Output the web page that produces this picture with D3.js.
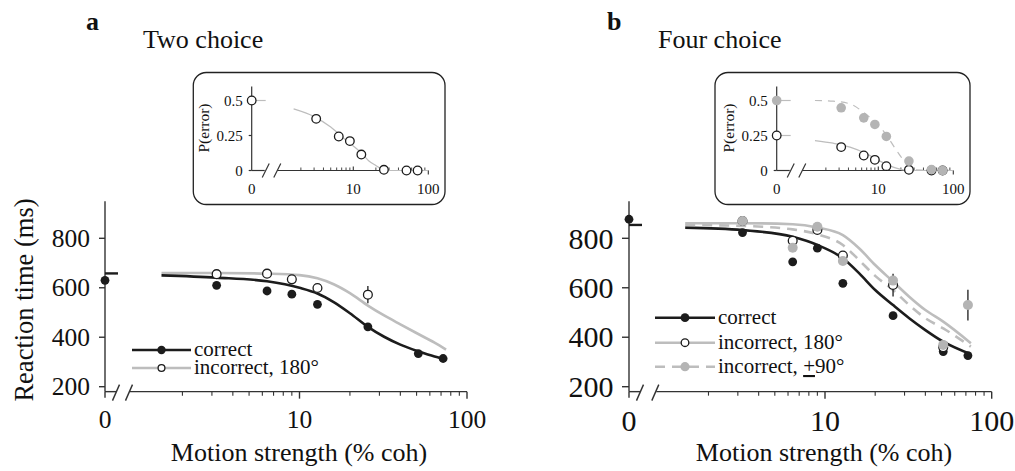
<!DOCTYPE html>
<html><head><meta charset="utf-8">
<script src="https://cdn.jsdelivr.net/npm/d3@7"></script>
<style>
html,body{margin:0;padding:0;background:#fff;}
svg text{font-family:"Liberation Serif","Times New Roman",serif;fill:#111;}
</style></head>
<body>
<svg id="chart" width="1015" height="471" font-family="Liberation Serif, Times New Roman, serif"></svg>
<script>
// ---------------- DATA ----------------
const coherence = [3.2, 6.4, 9, 12.8, 25.6, 51.2, 72];
const xTickLabels = ["0", "10", "100"];
const yTicksRT = [200, 400, 600, 800];
const yTicksP = [0, 0.25, 0.5];
const yTickLabelsP = ["0", "0.25", "0.5"];

// Two choice: reaction time (ms)
const twoCorrectZero = 630;
const twoCorrect = [610, 587, 574, 533, 442, 334, 314];
const twoIncorrect180 = [655, 657, 634, 599, 572, null, null];
const twoIncorrect180Err = [null, null, null, null, 35, null, null];
const twoFitZero = 658;
const twoFitCohCorrect = [1.5, 3.2, 6.4, 10, 12.8, 16, 20, 25.6, 32, 40, 51.2, 64, 75];
const twoFitCorrect =    [650, 641, 626, 600, 577, 542, 497, 442, 402, 370, 343, 322, 311];
const twoFitCohIncorrect = [1.5, 3.2, 6.4, 10, 12.8, 16, 20, 25.6, 32, 40, 51.2, 64, 75];
const twoFitIncorrect =    [660, 660, 657, 651, 638, 614, 578, 528, 488, 452, 413, 378, 350];
// Two choice inset: P(error)
const twoPErrZero = 0.5;
const twoPErr = [0.369, 0.243, 0.21, 0.114, 0.005, 0, 0];
const twoPFitZero = 0.5;
const twoPFitCoh = [1.6, 3, 5, 7.6, 10, 12.8, 16, 20, 24, 30, 100];
const twoPFit =    [0.44, 0.385, 0.31, 0.226, 0.175, 0.125, 0.07, 0.035, 0.01, 0, 0];

// Four choice: reaction time (ms)
const fourCorrectZero = 877;
const fourCorrect = [823, 705, 760, 618, 487, 342, 326];
const fourIncorrect180 = [870, 790, 834, 730, 611, 360, null];
const fourIncorrect180Err = [null, null, null, null, 46, null, null];
const fourIncorrect90 = [870, 762, 847, 708, 629, 369, 530];
const fourIncorrect90Err = [null, null, null, null, null, null, 62];
const fourFitZero = 854;
const fourFitCoh = [1.45, 3.2, 6.4, 9, 12.8, 16, 20, 25.6, 32, 40, 51.2, 75];
const fourFitCorrect =      [843, 833, 806, 773, 719, 659, 591, 530, 477, 429, 382, 331];
const fourFitIncorrect180 = [861, 861, 857, 844, 813, 760, 692, 625, 564, 510, 463, 376];
const fourFitIncorrect90 =  [854, 850, 836, 816, 773, 712, 648, 591, 530, 477, 436, 362];
// Four choice inset: P(error)
const fourP180Zero = 0.25;
const fourP180 = [0.167, 0.107, 0.076, 0.031, 0.005, 0, 0];
const fourP90Zero = 0.5;
const fourP90 = [0.448, 0.376, 0.329, 0.243, 0.067, 0.007, 0];
const fourPFitCoh180 = [1.43, 2.5, 4.2, 7.0, 10.5, 15.8, 21.5, 32, 100];
const fourPFit180 =    [0.214, 0.195, 0.167, 0.119, 0.067, 0.024, 0.005, 0, 0];
const fourPFitCoh90 = [1.43, 2.5, 4.2, 6.3, 8.6, 12.5, 17.5, 23.9, 32, 100];
const fourPFit90 =    [0.5, 0.495, 0.476, 0.417, 0.357, 0.262, 0.143, 0.048, 0.005, 0];

// ---------------- STYLE ----------------
const BLACK = "#1c1c1c", GRAY_LINE = "#bdbdbd", GRAY_DOT = "#b4b4b4", AXIS = "#333";
const svg = d3.select("#chart");

function zip(xs, ys) { return xs.map((x, i) => [x, ys[i]]).filter(d => d[1] != null); }
function minorTicks() {
  const t = [];
  [1, 10].forEach(dec => { for (let k = 2; k <= 9; k++) t.push(k * dec); });
  return t;
}

// Main panel
function mainPanel(o) {
  const g = svg.append("g");
  const x = d3.scaleLog().domain([1, 100]).range([o.logStart, o.logEnd]);
  const y = d3.scaleLinear().domain([200, 800]).range([386.7, 238.3]);
  const xb = o.zeroX;
  const yBase = y(180);
  // y axis
  g.append("line").attr("x1", xb).attr("x2", xb).attr("y1", y(950)).attr("y2", yBase)
    .attr("stroke", AXIS).attr("stroke-width", 1.4);
  yTicksRT.forEach(v => {
    g.append("line").attr("x1", xb - o.yTickLen).attr("x2", xb).attr("y1", y(v)).attr("y2", y(v))
      .attr("stroke", AXIS).attr("stroke-width", 1.4);
    g.append("text").attr("x", xb - o.yLabelGap).attr("y", y(v)).attr("dy", "0.34em")
      .attr("text-anchor", "end").attr("font-size", o.tickFont).text(v);
  });
  // x axis with break
  g.append("line").attr("x1", xb).attr("x2", xb + 11).attr("y1", yBase).attr("y2", yBase)
    .attr("stroke", AXIS).attr("stroke-width", 1.4);
  g.append("line").attr("x1", o.logStart - 2).attr("x2", o.logEnd).attr("y1", yBase).attr("y2", yBase)
    .attr("stroke", AXIS).attr("stroke-width", 1.4);
  [xb + 11, o.logStart - 3].forEach(cx => {
    g.append("line").attr("x1", cx - 3.5).attr("x2", cx + 3.5).attr("y1", yBase + 9).attr("y2", yBase - 7)
      .attr("stroke", AXIS).attr("stroke-width", 1.4);
  });
  g.append("line").attr("x1", xb).attr("x2", xb).attr("y1", yBase).attr("y2", yBase + 6)
    .attr("stroke", AXIS).attr("stroke-width", 1.4);
  minorTicks().forEach(v => {
    g.append("line").attr("x1", x(v)).attr("x2", x(v)).attr("y1", yBase).attr("y2", yBase + 4)
      .attr("stroke", AXIS).attr("stroke-width", 1.1);
  });
  [10, 100].forEach(v => {
    g.append("line").attr("x1", x(v)).attr("x2", x(v)).attr("y1", yBase).attr("y2", yBase + 7)
      .attr("stroke", AXIS).attr("stroke-width", 1.4);
  });
  const labelPos = [xb, x(10), x(100)];
  xTickLabels.forEach((t, i) => {
    g.append("text").attr("x", labelPos[i]).attr("y", o.xLabelY).attr("text-anchor", "middle")
      .attr("font-size", o.tickFont).text(t);
  });
  g.append("text").attr("x", o.titleX).attr("y", 461).attr("text-anchor", "middle")
    .attr("font-size", 26).text("Motion strength (% coh)");
  if (o.yTitle) {
    g.append("text").attr("transform", "translate(33,300) rotate(-90)").attr("text-anchor", "middle")
      .attr("font-size", 26.5).text("Reaction time (ms)");
  }
  // zero fit marker
  g.append("line").attr("x1", xb).attr("x2", xb + 13).attr("y1", y(o.fitZero)).attr("y2", y(o.fitZero))
    .attr("stroke", BLACK).attr("stroke-width", 2.4);
  // curves
  const line = d3.line().x(d => x(d[0])).y(d => y(d[1])).curve(d3.curveMonotoneX);
  o.curves.forEach(c => {
    g.append("path").attr("d", line(zip(c.coh, c.vals))).attr("fill", "none")
      .attr("stroke", c.color).attr("stroke-width", 2.6).attr("stroke-dasharray", c.dash || null);
  });
  // series points
  o.series.forEach(s => {
    const pts = zip(coherence, s.vals);
    if (s.err) {
      coherence.forEach((c, i) => {
        if (s.err[i] != null) {
          g.append("line").attr("x1", x(c)).attr("x2", x(c))
            .attr("y1", y(s.vals[i] - s.err[i])).attr("y2", y(s.vals[i] + s.err[i]))
            .attr("stroke", s.errColor).attr("stroke-width", 1.3);
        }
      });
    }
    if (s.zero != null) pts.unshift([null, s.zero]);
    g.selectAll(null).data(pts).enter().append("circle")
      .attr("cx", d => d[0] == null ? xb : x(d[0])).attr("cy", d => y(d[1])).attr("r", s.r || 4.4)
      .attr("fill", s.fill).attr("stroke", s.stroke).attr("stroke-width", s.fill === "#fff" ? 1.3 : 0);
  });
  // legend
  o.legend.forEach((L, i) => {
    const ly = o.legY[i];
    g.append("line").attr("x1", o.legX0).attr("x2", o.legX1).attr("y1", ly).attr("y2", ly)
      .attr("stroke", L.color).attr("stroke-width", 2.6).attr("stroke-dasharray", L.dash || null);
    g.append("circle").attr("cx", (o.legX0 + o.legX1) / 2).attr("cy", ly).attr("r", L.r)
      .attr("fill", L.fill).attr("stroke", L.stroke).attr("stroke-width", L.fill === "#fff" ? 1.3 : 0);
    const t = g.append("text").attr("x", o.legX1 + 3).attr("y", ly).attr("dy", "0.3em").attr("font-size", 21);
    if (L.pm) {
      t.append("tspan").text("incorrect, ");
      t.append("tspan").attr("text-decoration", "underline").text("+");
      t.append("tspan").text("90°");
    } else t.text(L.label);
  });
}

// Inset
function inset(o) {
  const g = svg.append("g");
  g.append("rect").attr("x", o.boxX).attr("y", 72.5).attr("width", o.boxW).attr("height", 132)
    .attr("rx", 13).attr("fill", "#fff").attr("stroke", "#222").attr("stroke-width", 1.3);
  const x = d3.scaleLog().domain([1, 100]).range([o.zeroX + 26.6, o.zeroX + 176.6]);
  const y = d3.scaleLinear().domain([0, 0.5]).range([170.5, 100.5]);
  const xb = o.zeroX, yb = y(0);
  g.append("line").attr("x1", xb).attr("x2", xb).attr("y1", y(0.6)).attr("y2", yb)
    .attr("stroke", AXIS).attr("stroke-width", 1.2);
  yTicksP.forEach((v, i) => {
    g.append("line").attr("x1", xb - 3).attr("x2", xb).attr("y1", y(v)).attr("y2", y(v))
      .attr("stroke", AXIS).attr("stroke-width", 1.2);
    g.append("text").attr("x", xb - 9).attr("y", y(v)).attr("dy", "0.34em").attr("text-anchor", "end")
      .attr("font-size", 15).text(yTickLabelsP[i]);
  });
  g.append("line").attr("x1", xb).attr("x2", xb + 13).attr("y1", yb).attr("y2", yb)
    .attr("stroke", AXIS).attr("stroke-width", 1.2);
  g.append("line").attr("x1", x(1) - 1).attr("x2", x(100)).attr("y1", yb).attr("y2", yb)
    .attr("stroke", AXIS).attr("stroke-width", 1.2);
  [xb + 14, x(1) - 1].forEach(cx => {
    g.append("line").attr("x1", cx - 3.5).attr("x2", cx + 3.5).attr("y1", yb + 7).attr("y2", yb - 7)
      .attr("stroke", AXIS).attr("stroke-width", 1.2);
  });
  minorTicks().forEach(v => {
    g.append("line").attr("x1", x(v)).attr("x2", x(v)).attr("y1", yb).attr("y2", yb - 3)
      .attr("stroke", AXIS).attr("stroke-width", 0.9);
  });
  g.append("line").attr("x1", x(10)).attr("x2", x(10)).attr("y1", yb).attr("y2", yb - 4)
    .attr("stroke", AXIS).attr("stroke-width", 1.1);
  g.append("line").attr("x1", x(100)).attr("x2", x(100)).attr("y1", yb).attr("y2", yb + 4)
    .attr("stroke", AXIS).attr("stroke-width", 1.1);
  const lp = [xb, x(10), x(100)];
  xTickLabels.forEach((t, i) => {
    g.append("text").attr("x", lp[i]).attr("y", 193.5).attr("text-anchor", "middle")
      .attr("font-size", 15).text(t);
  });
  g.append("text").attr("transform", `translate(${xb - 43},128) rotate(-90)`).attr("text-anchor", "middle")
    .attr("font-size", 15.5).text("P(error)");
  const line = d3.line().x(d => x(d[0])).y(d => y(d[1])).curve(d3.curveMonotoneX);
  o.curves.forEach(c => {
    g.append("line").attr("x1", xb + 4).attr("x2", xb + 14).attr("y1", y(c.zero)).attr("y2", y(c.zero))
      .attr("stroke", GRAY_LINE).attr("stroke-width", 1.2);
    g.append("path").attr("d", line(zip(c.coh, c.vals))).attr("fill", "none")
      .attr("stroke", GRAY_LINE).attr("stroke-width", 1.2).attr("stroke-dasharray", c.dash || null);
  });
  o.series.forEach(s => {
    const pts = zip(coherence, s.vals);
    pts.unshift([null, s.zero]);
    g.selectAll(null).data(pts).enter().append("circle")
      .attr("cx", d => d[0] == null ? xb : x(d[0])).attr("cy", d => y(d[1])).attr("r", s.r || 4.3)
      .attr("fill", s.fill).attr("stroke", s.stroke).attr("stroke-width", s.fill === "#fff" ? 1.3 : 0);
  });
}

// Titles
svg.append("text").attr("x", 86).attr("y", 30).attr("font-size", 26).attr("font-weight", "bold").text("a");
svg.append("text").attr("x", 143).attr("y", 48).attr("font-size", 26).text("Two choice");
svg.append("text").attr("x", 607).attr("y", 30).attr("font-size", 26).attr("font-weight", "bold").text("b");
svg.append("text").attr("x", 658).attr("y", 48).attr("font-size", 26).text("Four choice");

inset({
  boxX: 193.3, boxW: 251.7, zeroX: 251.7,
  curves: [{ zero: twoPFitZero, coh: twoPFitCoh, vals: twoPFit }],
  series: [{ zero: twoPErrZero, vals: twoPErr, fill: "#fff", stroke: BLACK }]
});
inset({
  boxX: 715, boxW: 255, zeroX: 776.7,
  curves: [
    { zero: fourP90Zero, coh: fourPFitCoh90, vals: fourPFit90, dash: "7,6" },
    { zero: fourP180Zero, coh: fourPFitCoh180, vals: fourPFit180 }
  ],
  series: [
    { zero: fourP180Zero, vals: fourP180, fill: "#fff", stroke: BLACK },
    { zero: fourP90Zero, vals: fourP90, fill: GRAY_DOT, stroke: "none", r: 4.8 }
  ]
});

mainPanel({
  zeroX: 105, logStart: 132, logEnd: 467, yTickLen: 6, yLabelGap: 15, tickFont: 25.5,
  xLabelY: 428, titleX: 299, yTitle: true, fitZero: twoFitZero,
  curves: [
    { coh: twoFitCohIncorrect, vals: twoFitIncorrect, color: GRAY_LINE },
    { coh: twoFitCohCorrect, vals: twoFitCorrect, color: BLACK }
  ],
  series: [
    { zero: twoCorrectZero, vals: twoCorrect, fill: BLACK, stroke: "none" },
    { vals: twoIncorrect180, err: twoIncorrect180Err, errColor: BLACK, fill: "#fff", stroke: BLACK }
  ],
  legX0: 132, legX1: 191, legY: [350, 368],
  legend: [
    { label: "correct", color: BLACK, fill: BLACK, stroke: "none", r: 4.2 },
    { label: "incorrect, 180°", color: GRAY_LINE, fill: "#fff", stroke: BLACK, r: 3.4 }
  ]
});
mainPanel({
  zeroX: 629, logStart: 658.3, logEnd: 991.7, yTickLen: 7, yLabelGap: 15.5, tickFont: 30,
  xLabelY: 431, titleX: 824, yTitle: false, fitZero: fourFitZero,
  curves: [
    { coh: fourFitCoh, vals: fourFitCorrect, color: BLACK },
    { coh: fourFitCoh, vals: fourFitIncorrect90, color: GRAY_LINE, dash: "10,7" },
    { coh: fourFitCoh, vals: fourFitIncorrect180, color: GRAY_LINE }
  ],
  series: [
    { zero: fourCorrectZero, vals: fourCorrect, fill: BLACK, stroke: "none" },
    { vals: fourIncorrect180, err: fourIncorrect180Err, errColor: BLACK, fill: "#fff", stroke: BLACK },
    { vals: fourIncorrect90, err: fourIncorrect90Err, errColor: BLACK, fill: GRAY_DOT, stroke: "none", r: 5 }
  ],
  legX0: 655, legX1: 715, legY: [317.7, 342.7, 366.7],
  legend: [
    { label: "correct", color: BLACK, fill: BLACK, stroke: "none", r: 4.4 },
    { label: "incorrect, 180°", color: GRAY_LINE, fill: "#fff", stroke: BLACK, r: 3.8 },
    { pm: true, color: GRAY_LINE, dash: "10,7", fill: GRAY_DOT, stroke: "none", r: 4.6 }
  ]
});
</script>
</body></html>
